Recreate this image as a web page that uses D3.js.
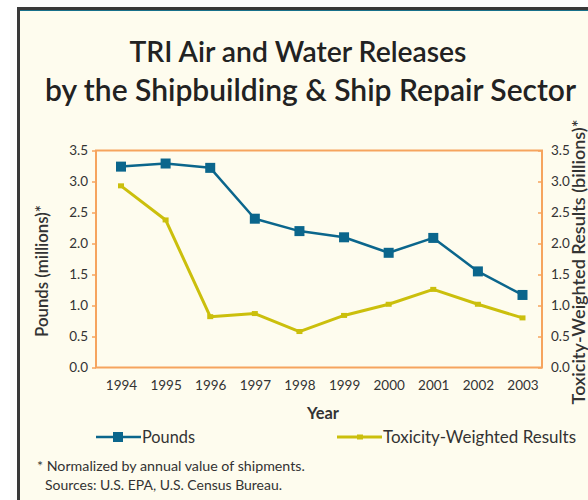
<!DOCTYPE html>
<html><head><meta charset="utf-8">
<script src="https://cdn.jsdelivr.net/npm/d3@7"></script>
<style>body{margin:0;background:#fff;} svg{display:block}</style>
</head><body>
<svg id="chart" width="588" height="500"></svg>
<script>
const years = [1994, 1995, 1996, 1997, 1998, 1999, 2000, 2001, 2002, 2003];
const pounds = [3.24, 3.29, 3.22, 2.40, 2.20, 2.10, 1.85, 2.09, 1.55, 1.17];
const toxicity = [2.93, 2.38, 0.82, 0.87, 0.58, 0.84, 1.02, 1.26, 1.02, 0.80];
const yTicks = [0, 0.5, 1.0, 1.5, 2.0, 2.5, 3.0, 3.5];
const titleLines = ["TRI Air and Water Releases", "by the Shipbuilding & Ship Repair Sector"];
const leftTitle = "Pounds (millions)*";
const rightTitle = "Toxicity-Weighted Results (billions)*";
const xTitle = "Year";
const seriesNames = ["Pounds", "Toxicity-Weighted Results"];
const notes = ["* Normalized by annual value of shipments.", "Sources: U.S. EPA, U.S. Census Bureau."];

const FONT = "Lato, 'Open Sans', sans-serif";
const svg = d3.select("#chart");
const BLUE = "#0b668c", YEL = "#cbbf0c", ORANGE = "#f6a45e", TXT = "#333333";

// frame
svg.append("rect").attr("x", 0).attr("y", 0).attr("width", 588).attr("height", 500).attr("fill", "#fff");
svg.append("rect").attr("x", 17).attr("y", 7).attr("width", 571).attr("height", 493).attr("fill", "#3a3a3a");
svg.append("rect").attr("x", 20).attr("y", 10).attr("width", 568).attr("height", 490).attr("fill", "#17708a");
svg.append("rect").attr("x", 20).attr("y", 11).attr("width", 568).attr("height", 489).attr("fill", "#fefcee");

function fit(sel, w) {
  const n = sel.node();
  const cur = parseFloat(sel.attr("font-size"));
  const m = n.getComputedTextLength();
  sel.attr("font-size", (cur * w / m).toFixed(2));
  return sel;
}

// title
const t1 = svg.append("text").attr("x", 298).attr("y", 62).attr("text-anchor", "middle")
  .attr("font-family", FONT).attr("font-weight", 600).attr("font-size", 28).attr("fill", "#222").text(titleLines[0]);
fit(t1, 337);
const t2 = svg.append("text").attr("x", 310.5).attr("y", 101).attr("text-anchor", "middle")
  .attr("font-family", FONT).attr("font-weight", 600).attr("font-size", 28).attr("fill", "#222").text(titleLines[1]);
fit(t2, 531);

const L = 96, R = 542, T = 150.5, B = 367.5;
const x = d3.scalePoint().domain(years).range([121, 522.5]);
const y = d3.scaleLinear().domain([0, 3.5]).range([B, T]);

// plot frame
svg.append("rect").attr("x", L).attr("y", T).attr("width", R - L).attr("height", B - T)
  .attr("fill", "none").attr("stroke", ORANGE).attr("stroke-width", 2);

// left axis
const ax = svg.append("g").attr("transform", `translate(${L},0)`)
  .call(d3.axisLeft(y).tickValues(yTicks).tickFormat(d3.format(".1f")).tickSize(4).tickPadding(4));
ax.select(".domain").remove();
ax.selectAll(".tick line").attr("stroke", ORANGE).attr("stroke-width", 1.5);
ax.selectAll(".tick text").attr("font-family", FONT).attr("font-size", 13.5).attr("fill", TXT);

// right axis (ticks inside)
const ar = svg.append("g").attr("transform", `translate(${R},0)`)
  .call(d3.axisRight(y).tickValues(yTicks).tickFormat(d3.format(".1f")).tickSize(-4).tickPadding(9));
ar.select(".domain").remove();
ar.selectAll(".tick line").attr("stroke", ORANGE).attr("stroke-width", 1.5);
ar.selectAll(".tick text").attr("font-family", FONT).attr("font-size", 13.5).attr("fill", TXT);

// x axis labels
const axb = svg.append("g").attr("transform", `translate(0,${B})`)
  .call(d3.axisBottom(x).tickSize(0).tickPadding(13));
axb.select(".domain").remove();
axb.selectAll(".tick text").attr("font-family", FONT).attr("font-size", 13.5).attr("fill", TXT);

// axis titles
const lt = svg.append("text").attr("transform", "translate(48,271) rotate(-90)").attr("text-anchor", "middle")
  .attr("font-family", FONT).attr("font-weight", 600).attr("font-size", 15).attr("fill", TXT).text(leftTitle);
fit(lt, 132);
const rt = svg.append("text").attr("transform", "translate(585,262) rotate(-90)").attr("text-anchor", "middle")
  .attr("font-family", FONT).attr("font-weight", 600).attr("font-size", 15).attr("fill", TXT).text(rightTitle);
fit(rt, 285);
const xt = svg.append("text").attr("x", 323).attr("y", 419).attr("text-anchor", "middle")
  .attr("font-family", FONT).attr("font-weight", 700).attr("font-size", 15).attr("fill", TXT).text(xTitle);
fit(xt, 32);

// lines
const line = d3.line().x((d, i) => x(years[i])).y(d => y(d));
svg.append("path").datum(toxicity).attr("d", line).attr("fill", "none").attr("stroke", YEL).attr("stroke-width", 3).attr("stroke-linejoin", "round");
svg.selectAll(".tm").data(toxicity).enter().append("rect")
  .attr("x", (d, i) => x(years[i]) - 3).attr("y", d => y(d) - 2.5).attr("width", 6).attr("height", 5).attr("fill", YEL);
svg.append("path").datum(pounds).attr("d", line).attr("fill", "none").attr("stroke", BLUE).attr("stroke-width", 2.5).attr("stroke-linejoin", "round");
svg.selectAll(".pm").data(pounds).enter().append("rect")
  .attr("x", (d, i) => x(years[i]) - 5).attr("y", d => y(d) - 5).attr("width", 10).attr("height", 10).attr("fill", BLUE);

// legend
const ly = 437;
svg.append("line").attr("x1", 96).attr("x2", 141).attr("y1", ly).attr("y2", ly).attr("stroke", BLUE).attr("stroke-width", 2.5);
svg.append("rect").attr("x", 113).attr("y", ly - 5).attr("width", 10).attr("height", 10).attr("fill", BLUE);
const lg1 = svg.append("text").attr("x", 142).attr("y", ly + 5.5).attr("font-family", FONT).attr("font-size", 15).attr("fill", TXT).text(seriesNames[0]);
fit(lg1, 53);
svg.append("line").attr("x1", 337).attr("x2", 382).attr("y1", ly).attr("y2", ly).attr("stroke", YEL).attr("stroke-width", 3);
svg.append("rect").attr("x", 357).attr("y", ly - 2.5).attr("width", 6).attr("height", 5).attr("fill", YEL);
const lg2 = svg.append("text").attr("x", 383).attr("y", ly + 5.5).attr("font-family", FONT).attr("font-size", 15).attr("fill", TXT).text(seriesNames[1]);
fit(lg2, 193);

// notes
const n1 = svg.append("text").attr("x", 37).attr("y", 471).attr("font-family", FONT).attr("font-size", 12.5).attr("fill", TXT).text(notes[0]);
fit(n1, 268);
const n2 = svg.append("text").attr("x", 45).attr("y", 490).attr("font-family", FONT).attr("font-size", 12.5).attr("fill", TXT).text(notes[1]);
fit(n2, 237);
</script>
</body></html>
